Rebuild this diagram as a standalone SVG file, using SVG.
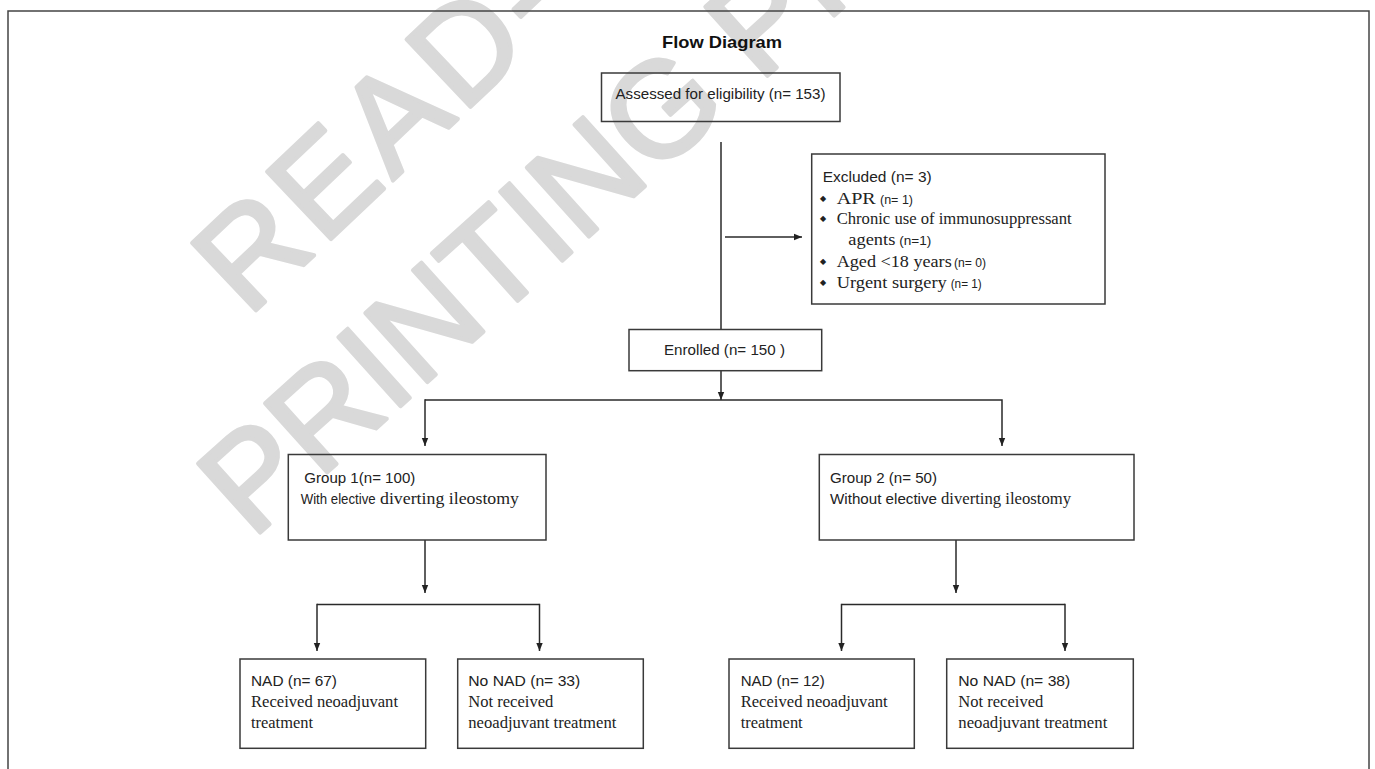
<svg xmlns="http://www.w3.org/2000/svg" width="1375" height="769" viewBox="0 0 1375 769">
<style>
.wm{font-family:"Liberation Sans",Arial,sans-serif;font-size:135px;fill:#d9d9d9;stroke:#d9d9d9;stroke-width:4;stroke-linejoin:round}
.box{fill:none;stroke:#3a3a3a;stroke-width:1.5}
.ln{fill:none;stroke:#2a2a2a;stroke-width:1.5}
.s{font-family:"Liberation Sans",Arial,sans-serif;font-size:15px;fill:#222}
.n{font-family:"Liberation Sans",Arial,sans-serif;font-size:13px;fill:#222}
.r{font-family:"Liberation Serif","Times New Roman",serif;font-size:16px;fill:#222}
.t{font-family:"Liberation Sans",Arial,sans-serif;font-size:17px;font-weight:bold;fill:#111}
.b{font-family:"DejaVu Sans",sans-serif;font-size:8px;fill:#222}
</style>
<defs>
<marker id="ah" viewBox="0 0 10 10" refX="10" refY="5" markerWidth="8" markerHeight="8" orient="auto" markerUnits="userSpaceOnUse"><path d="M0,1 L10,5 L0,9 z" fill="#222"/></marker>
</defs>
<rect width="1375" height="769" fill="#fff"/>
<g id="watermark">
<text class="wm" x="248" y="318" letter-spacing="6" transform="rotate(-43.5 248 318)">READ-ONLY</text>
<text class="wm" x="252" y="540" transform="rotate(-42 252 540)">PRINTING PROHIBITED</text>
</g>
<rect x="8" y="11" width="1361" height="770" fill="none" stroke="#444" stroke-width="1.5"/>
<text class="t" x="662" y="48" textLength="120" lengthAdjust="spacingAndGlyphs">Flow Diagram</text>
<g id="connectors">
<line class="ln" x1="721" y1="142" x2="721" y2="329.5"/>
<line class="ln" x1="725" y1="237" x2="802" y2="237" marker-end="url(#ah)"/>
<line class="ln" x1="721" y1="371" x2="721" y2="400" marker-end="url(#ah)"/>
<polyline class="ln" points="425,400 1002,400 1002,446" marker-end="url(#ah)"/>
<line class="ln" x1="425" y1="399.3" x2="425" y2="446" marker-end="url(#ah)"/>
<line class="ln" x1="425" y1="540" x2="425" y2="593" marker-end="url(#ah)"/>
<polyline class="ln" points="317,604.5 539.5,604.5"/>
<line class="ln" x1="317" y1="603.8" x2="317" y2="651" marker-end="url(#ah)"/>
<line class="ln" x1="539.5" y1="603.8" x2="539.5" y2="651" marker-end="url(#ah)"/>
<line class="ln" x1="956" y1="540" x2="956" y2="593" marker-end="url(#ah)"/>
<polyline class="ln" points="841.5,604.5 1065,604.5"/>
<line class="ln" x1="841.5" y1="603.8" x2="841.5" y2="651" marker-end="url(#ah)"/>
<line class="ln" x1="1065" y1="603.8" x2="1065" y2="651" marker-end="url(#ah)"/>
</g>
<g id="assessed">
<rect class="box" x="601.5" y="73" width="238.5" height="48.5"/>
<text class="s" x="615.5" y="98.5" textLength="210" lengthAdjust="spacingAndGlyphs">Assessed for eligibility (n= 153)</text>
</g>
<g id="excluded">
<rect class="box" x="811.7" y="154" width="293.3" height="150"/>
<text class="s" x="822.7" y="181.5" textLength="109" lengthAdjust="spacingAndGlyphs">Excluded  (n= 3)</text>
<text class="b" x="820" y="201">◆</text>
<text class="r" x="836.7" y="204" textLength="39" lengthAdjust="spacingAndGlyphs">APR</text>
<text class="n" x="880" y="204" textLength="33" lengthAdjust="spacingAndGlyphs">(n= 1)</text>
<text class="b" x="820" y="221">◆</text>
<text class="r" x="836.7" y="224" textLength="235" lengthAdjust="spacingAndGlyphs">Chronic use of immunosuppressant</text>
<text class="r" x="848.3" y="244.5" textLength="47" lengthAdjust="spacingAndGlyphs">agents</text>
<text class="n" x="899.3" y="244.5" textLength="32" lengthAdjust="spacingAndGlyphs">(n=1)</text>
<text class="b" x="820" y="263.5">◆</text>
<text class="r" x="836.7" y="266.5" textLength="115" lengthAdjust="spacingAndGlyphs">Aged &lt;18 years</text>
<text class="n" x="954" y="266.5" textLength="32" lengthAdjust="spacingAndGlyphs">(n= 0)</text>
<text class="b" x="820" y="285">◆</text>
<text class="r" x="836.7" y="288" textLength="110" lengthAdjust="spacingAndGlyphs">Urgent surgery</text>
<text class="n" x="950.7" y="288" textLength="31" lengthAdjust="spacingAndGlyphs">(n= 1)</text>
</g>
<g id="enrolled">
<rect class="box" x="629" y="329.5" width="192.7" height="41.2"/>
<text class="s" x="664" y="355" textLength="121" lengthAdjust="spacingAndGlyphs">Enrolled (n= 150 )</text>
</g>
<g id="group1">
<rect class="box" x="288.3" y="454.5" width="257.7" height="85.5"/>
<text class="s" x="304.3" y="482.7" textLength="111" lengthAdjust="spacingAndGlyphs">Group 1(n= 100)</text>
<text class="s" x="300.7" y="504" textLength="75" lengthAdjust="spacingAndGlyphs">With elective</text>
<text class="r" x="380" y="504" textLength="139" lengthAdjust="spacingAndGlyphs">diverting ileostomy</text>
</g>
<g id="group2">
<rect class="box" x="819.3" y="454.5" width="314.7" height="85.5"/>
<text class="s" x="830" y="482.7" textLength="107" lengthAdjust="spacingAndGlyphs">Group 2 (n= 50)</text>
<text class="s" x="830" y="503.5" textLength="107" lengthAdjust="spacingAndGlyphs">Without elective</text>
<text class="r" x="941" y="503.5" textLength="130" lengthAdjust="spacingAndGlyphs">diverting ileostomy</text>
</g>
<g id="nad67">
<rect class="box" x="240" y="659" width="185.7" height="89.3"/>
<text class="s" x="251" y="686" textLength="86" lengthAdjust="spacingAndGlyphs">NAD (n= 67)</text>
<text class="r" x="251" y="707.3" textLength="147" lengthAdjust="spacingAndGlyphs">Received neoadjuvant</text>
<text class="r" x="251" y="728" textLength="62" lengthAdjust="spacingAndGlyphs">treatment</text>
</g>
<g id="nonad33">
<rect class="box" x="457.7" y="659" width="185.6" height="89.3"/>
<text class="s" x="468.3" y="686" textLength="112" lengthAdjust="spacingAndGlyphs">No NAD  (n= 33)</text>
<text class="r" x="468.3" y="707.3" textLength="85" lengthAdjust="spacingAndGlyphs">Not received</text>
<text class="r" x="468.3" y="728" textLength="148" lengthAdjust="spacingAndGlyphs">neoadjuvant treatment</text>
</g>
<g id="nad12">
<rect class="box" x="729" y="659" width="185.3" height="89.3"/>
<text class="s" x="740.7" y="686" textLength="84" lengthAdjust="spacingAndGlyphs">NAD (n= 12)</text>
<text class="r" x="740.7" y="707.3" textLength="147" lengthAdjust="spacingAndGlyphs">Received neoadjuvant</text>
<text class="r" x="740.7" y="728" textLength="62" lengthAdjust="spacingAndGlyphs">treatment</text>
</g>
<g id="nonad38">
<rect class="box" x="946.7" y="659" width="186.6" height="89.3"/>
<text class="s" x="958.3" y="686" textLength="112" lengthAdjust="spacingAndGlyphs">No NAD  (n= 38)</text>
<text class="r" x="958.3" y="707.3" textLength="85" lengthAdjust="spacingAndGlyphs">Not received</text>
<text class="r" x="958.3" y="728" textLength="149" lengthAdjust="spacingAndGlyphs">neoadjuvant treatment</text>
</g>
</svg>
